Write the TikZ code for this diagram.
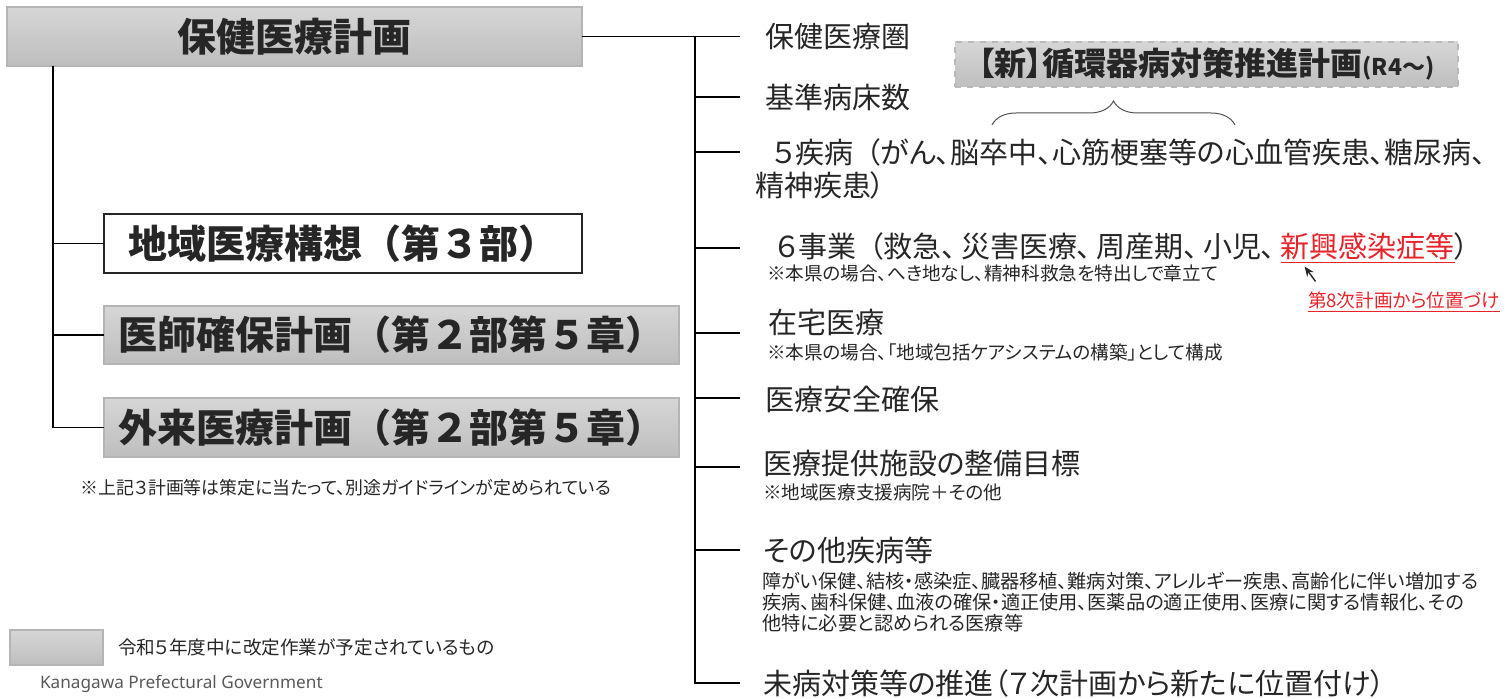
\documentclass[tikz,border=0pt]{standalone}
\usepackage{fontspec}
\setmainfont{Noto Sans CJK JP}
\newfontfamily\jpfont{Noto Sans CJK JP}[RawFeature=+palt]
\newfontfamily\enfont{Noto Sans}
\usepackage{tikz}
\usetikzlibrary{positioning}
\usetikzlibrary{calc}
\usetikzlibrary{arrows.meta}
\usetikzlibrary{decorations.pathreplacing}
\definecolor{ink}{HTML}{262626}
\definecolor{boxtop}{HTML}{D6D6D6}
\definecolor{boxbot}{HTML}{BEBEBE}
\definecolor{boxline}{HTML}{B4B4B4}
\definecolor{newred}{HTML}{E8232A}
\newcommand{\widelp}{\hspace{6.5pt}（}
\newcommand{\widecm}{、\hspace{2.5pt}}
\tikzset{
	every node/.style={inner sep=0pt,outer sep=0pt,text=ink},
	every path/.style={line width=0.6pt},
	planbox/.style={draw=boxline, top color=boxtop, bottom color=boxbot, font=\bfseries\fontsize{19.5}{22}\selectfont},
	whitebox/.style={draw=ink, fill=white, font=\bfseries\fontsize{19.5}{22}\selectfont},
	newbox/.style={draw=gray!55, dashed, top color=boxtop, bottom color=boxbot, font=\jpfont\bfseries\fontsize{16}{18}\selectfont},
	item/.style={anchor=west, align=left, font=\jpfont\fontsize{14.5}{17}\selectfont},
	note/.style={anchor=west, align=left, font=\jpfont\fontsize{9.3}{10.5}\selectfont},
	brace/.style={decorate, decoration={brace, amplitude=12pt}, draw=ink!80, line width=0.5pt},
	pointer/.style={-{Stealth[length=5pt,width=4pt]}, draw=ink, line width=0.7pt}
}

\begin{document}
\begin{tikzpicture}[x=0.5pt,y=-0.5pt]
	\useasboundingbox (0,0) rectangle (1509,699);
	
	% Plans on the left
	\node (plan) [planbox, minimum width=287.5pt, minimum height=29.5pt] at (294.5,36.5) {保健医療計画};
	\node (region) [whitebox, minimum width=239pt, minimum height=29.5pt] at (343,243.5) {地域医療構想（第３部）};
	\node (doctor) [planbox, minimum width=287.5pt, minimum height=29pt] at (391.5,335) {医師確保計画（第２部第５章）};
	\node (outpt) [planbox, minimum width=287.5pt, minimum height=29.5pt] at (391.5,427.5) {外来医療計画（第２部第５章）};
	\node (guide) [note, anchor=center, font=\jpfont\fontsize{8.95}{10.5}\selectfont] at (346,488) {※上記３計画等は策定に当たって、別途ガイドラインが定められている};
	
	\coordinate (ltop) at ([xshift=23pt]plan.south west);
	\draw (ltop) |- (region.west);
	\draw (ltop) |- (doctor.west);
	\draw (ltop) |- (outpt.west);
	
	% Branches on the right
	\coordinate (rtop) at (695,36.5);
	\foreach \n/\y in {zone/36.5, beds/97, five/152, six/248, home/333, safety/398, facility/467, other/550, mibyo/683}
		\coordinate (\n-end) at (740,\y);
	\draw (plan.east) -- (zone-end);
	\foreach \n in {beds, five, six, home, safety, facility, other, mibyo}
		\draw (rtop) |- (\n-end);
	
	\node (zone) [item] at (765,37) {保健医療圏};
	\node (beds) [item] at (765,97) {基準病床数};
	\node (five) [item, font=\jpfont\fontsize{14.5}{16.5}\selectfont] at (755,168.5) {\hspace{9pt}５疾病\widelp がん、脳卒中、心筋梗塞等の心血管疾患、糖尿病、\\精神疾患）};
	\node (six) [item] at (776,246) {６事業\widelp 救急\widecm 災害医療\widecm 周産期\widecm 小児\widecm};
	\node (newinf) [item, anchor=base west, text=newred] at (six.base east) {\underline{新興感染症等}};
	\node (sixend) [item, anchor=base west] at (newinf.base east) {）};
	\node (sixnote) [note] at (767,273) {※本県の場合、へき地なし、精神科救急を特出しで章立て};
	\node (firstnote) [note, text=newred] at (1308,302) {\underline{第8次計画から位置づけ}};
	\coordinate (ptrtip) at ([shift={(12pt,-1.5pt)}]newinf.south west);
	\draw[pointer] ([shift={(5.5pt,-7.5pt)}]ptrtip) -- (ptrtip);
	
	\node (home) [item] at (768,322) {在宅医療};
	\node (homenote) [note] at (767,352) {※本県の場合、「地域包括ケアシステムの構築」として構成};
	\node (safety) [item] at (765,399) {医療安全確保};
	\node (facility) [item] at (763,463) {医療提供施設の整備目標};
	\node (facnote) [note] at (763,492) {※地域医療支援病院＋その他};
	\node (other) [item] at (763,550) {その他疾病等};
	\node (othernote) [note, font=\jpfont\fontsize{9.6}{10.5}\selectfont] at (762,602) {障がい保健、結核・感染症、臓器移植、難病対策、アレルギー疾患、高齢化に伴い増加する\\疾病、歯科保健、血液の確保・適正使用、医薬品の適正使用、医療に関する情報化、その\\他特に必要と認められる医療等};
	\node (mibyo) [item] at (763,683) {未病対策等の推進（７次計画から新たに位置付け）};
	
	% New plan
	\node (circ) [newbox, minimum width=251.5pt, minimum height=22.5pt] at (1206.5,64.5) {【新】循環器病対策推進計画{\fontsize{11.5}{13}\selectfont (R4～)}};
	\coordinate (brl) at (992,125);
	\coordinate (brr) at (1235,125);
	\draw[brace] (brl) -- (brr);
	
	% Legend
	\node (legbox) [planbox, minimum width=46.5pt, minimum height=17.5pt] at (56.5,647.5) {};
	\node (legtext) [note, right=7.5pt of legbox] {令和５年度中に改定作業が予定されているもの};
	\node (kanagawa) [anchor=west, font=\enfont\fontsize{8.6}{10}\selectfont, text=gray!70!black] at (40,684) {Kanagawa Prefectural Government};
\end{tikzpicture}
\end{document}
